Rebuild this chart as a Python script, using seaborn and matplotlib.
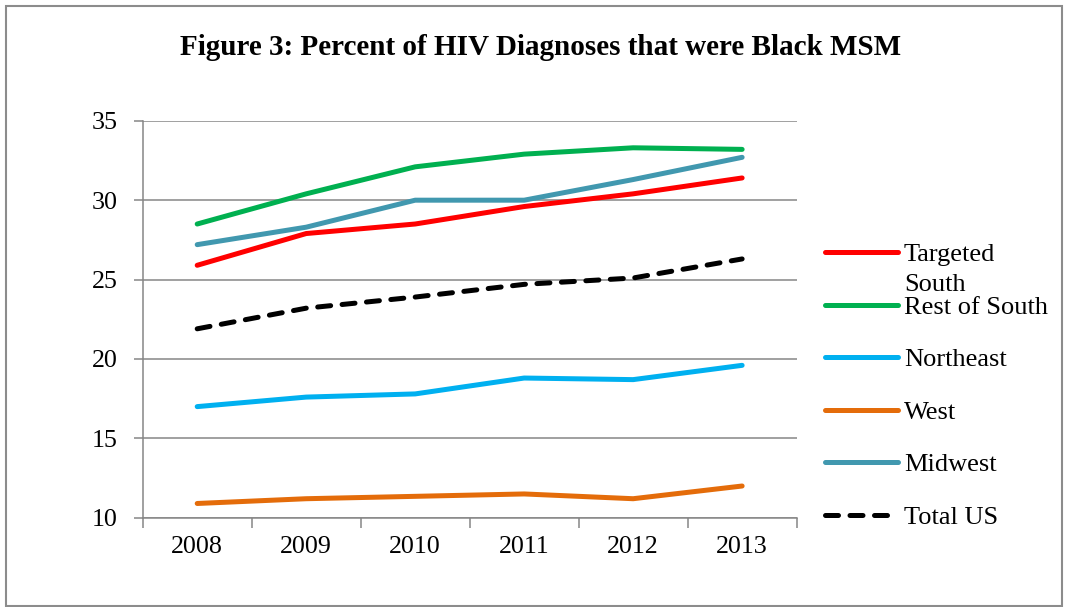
import matplotlib
matplotlib.use("Agg")
import matplotlib.pyplot as plt
import seaborn as sns
import pandas as pd
from matplotlib.patches import Rectangle
from matplotlib.ticker import FixedLocator, NullFormatter

# data
years = ["2008", "2009", "2010", "2011", "2012", "2013"]
targeted_south = [25.9, 27.9, 28.5, 29.6, 30.4, 31.4]
rest_of_south = [28.5, 30.4, 32.1, 32.9, 33.3, 33.2]
northeast = [17.0, 17.6, 17.8, 18.8, 18.7, 19.6]
west = [10.9, 11.2, 11.35, 11.5, 11.2, 12.0]
midwest = [27.2, 28.3, 30.0, 30.0, 31.3, 32.7]
total_us = [21.9, 23.2, 23.9, 24.7, 25.1, 26.3]

series_names = ["Targeted South", "Rest of South", "Northeast", "West", "Midwest", "Total US"]
series_values = [targeted_south, rest_of_south, northeast, west, midwest, total_us]
series_colors = ["#FF0000", "#00B050", "#00B0F0", "#E46C0A", "#4198AF", "#000000"]

sns.set_theme(style="white")
plt.rcParams["font.family"] = ["Liberation Serif", "DejaVu Serif"]
plt.rcParams["text.color"] = "black"
plt.rcParams["xtick.labelcolor"] = "black"
plt.rcParams["ytick.labelcolor"] = "black"

fig = plt.figure(figsize=(10.65, 6.07), dpi=100)
ax = fig.add_axes([0.134, 0.147, 0.614, 0.654])

handles = []
for name, vals, col in zip(series_names, series_values, series_colors):
    df = pd.DataFrame({"year": years, "pct": vals})
    sns.lineplot(data=df, x="year", y="pct", ax=ax, color=col, linewidth=3.6,
                 sort=False, solid_capstyle="round")
    line = ax.lines[-1]
    if name == "Total US":
        line.set_dashes((2.6, 2.3))
        line.set_dash_capstyle("round")
    handles.append(line)

ax.set_xlim(-0.5, 5.5)
ax.set_ylim(10, 35)
ax.set_yticks([10, 15, 20, 25, 30, 35])
ax.set_xlabel("")
ax.set_ylabel("")

ax.yaxis.grid(True, color="#868686", linewidth=1.1)
ax.set_axisbelow(True)
for side in ["top", "right"]:
    ax.spines[side].set_visible(False)
for side in ["left", "bottom"]:
    ax.spines[side].set_color("#868686")
    ax.spines[side].set_linewidth(1.1)

ax.tick_params(axis="y", which="major", length=6.5, width=1.1, color="#868686",
               direction="out", left=True, labelsize=18.7, pad=11.5)
ax.tick_params(axis="x", which="major", length=0, labelsize=18.7, pad=13)
ax.xaxis.set_minor_locator(FixedLocator([i - 0.5 for i in range(len(years) + 1)]))
ax.xaxis.set_minor_formatter(NullFormatter())
ax.tick_params(axis="x", which="minor", length=7, width=1.1, color="#868686",
               direction="out", bottom=True)

labels = list(series_names)
labels[0] = "Targeted"
leg = ax.legend(handles, labels, loc="upper left", bbox_to_anchor=(0.775, 0.6),
                bbox_transform=fig.transFigure, frameon=False, fontsize=19,
                handlelength=2.75, handletextpad=0.22, labelspacing=1.1,
                borderpad=0, borderaxespad=0)

fig.text(0.508, 0.922, "Figure 3: Percent of HIV Diagnoses that were Black MSM",
         ha="center", va="center", fontsize=21, fontweight="bold")

# second line of the first legend label sits under "Targeted"
fig.canvas.draw()
bb = leg.texts[0].get_window_extent().transformed(fig.transFigure.inverted())
y_mid = (bb.y0 + bb.y1) / 2
fig.text(bb.x0, y_mid - 30 / 607, "South", ha="left", va="center", fontsize=19)

fig.add_artist(Rectangle((0.006, 0.002), 0.991, 0.988, transform=fig.transFigure,
                         fill=False, edgecolor="#8C8C8C", linewidth=1.5))

fig.savefig("out.png", dpi=100)
